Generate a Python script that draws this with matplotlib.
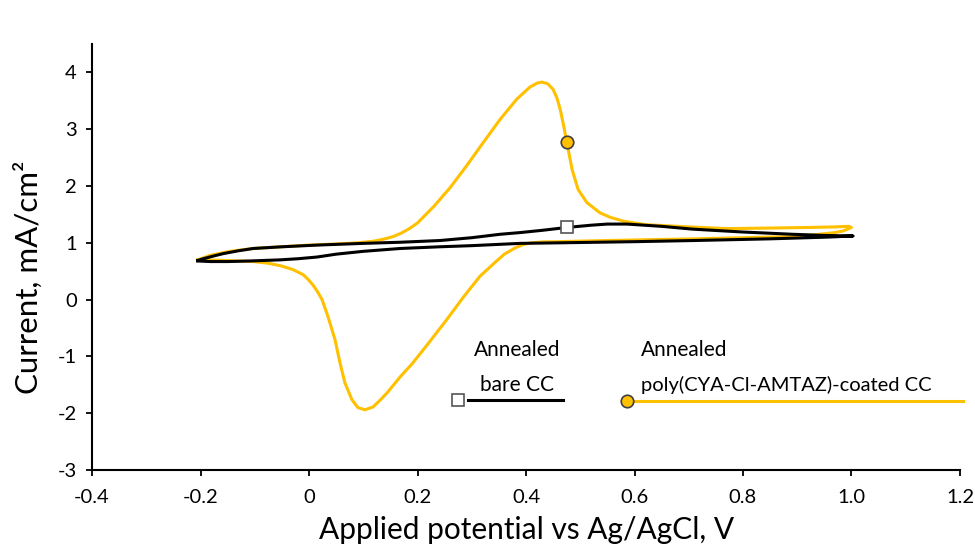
import matplotlib
matplotlib.use("Agg")
import matplotlib.pyplot as plt

plt.rcParams["font.family"] = ["Lato", "DejaVu Sans"]
plt.rcParams["axes.unicode_minus"] = False

# coated CC: forward sweep then reverse sweep back to -0.2 V
coated_e = [-0.205, -0.182, -0.146, -0.103, -0.035, 0.00, 0.05, 0.09, 0.12, 0.14,
            0.155, 0.17, 0.185, 0.20, 0.23, 0.26, 0.29, 0.32, 0.352, 0.383,
            0.407, 0.42, 0.429, 0.44, 0.450, 0.457, 0.463, 0.469, 0.475, 0.485,
            0.496, 0.512, 0.536, 0.555, 0.58, 0.62, 0.70, 0.77, 0.85, 0.92,
            0.97, 0.995,
            1.00, 0.985, 0.97, 0.93, 0.89, 0.80, 0.71, 0.60, 0.50, 0.46,
            0.43, 0.41, 0.395, 0.38, 0.36, 0.34, 0.315, 0.285, 0.254, 0.22,
            0.19, 0.168, 0.144, 0.13, 0.118, 0.103, 0.090, 0.079, 0.066, 0.057,
            0.048, 0.035, 0.024, 0.015, 0.007, -0.002, -0.011, -0.03, -0.05, -0.075,
            -0.103, -0.130, -0.158, -0.185, -0.205]
coated_i = [0.70, 0.78, 0.85, 0.90, 0.94, 0.96, 0.98, 1.00, 1.03, 1.07,
            1.11, 1.17, 1.25, 1.35, 1.64, 1.97, 2.35, 2.75, 3.17, 3.53,
            3.74, 3.81, 3.83, 3.80, 3.70, 3.55, 3.35, 3.08, 2.78, 2.29,
            1.94, 1.71, 1.53, 1.45, 1.38, 1.32, 1.28, 1.25, 1.26, 1.27,
            1.28, 1.29,
            1.27, 1.21, 1.18, 1.14, 1.11, 1.09, 1.07, 1.05, 1.03, 1.02,
            1.015, 1.00, 0.97, 0.91, 0.80, 0.63, 0.41, 0.05, -0.35, -0.77,
            -1.13, -1.36, -1.64, -1.78, -1.89, -1.94, -1.90, -1.76, -1.46, -1.11,
            -0.71, -0.30, 0.00, 0.15, 0.26, 0.36, 0.44, 0.53, 0.59, 0.64,
            0.67, 0.68, 0.69, 0.70, 0.70]

# bare CC
bare_e = [-0.205, -0.195, -0.175, -0.158, -0.13, -0.103, -0.05, 0.015, 0.10, 0.168,
          0.241, 0.30, 0.352, 0.389, 0.43, 0.475, 0.52, 0.55, 0.586, 0.65,
          0.708, 0.80, 0.892, 0.95, 1.003,
          0.955, 0.85, 0.708, 0.60, 0.463, 0.389, 0.30, 0.241, 0.168, 0.10,
          0.05, 0.015, -0.02, -0.053, -0.109, -0.15, -0.182, -0.205]
bare_i = [0.69, 0.72, 0.77, 0.81, 0.86, 0.90, 0.93, 0.96, 0.99, 1.01,
          1.04, 1.09, 1.15, 1.18, 1.22, 1.27, 1.31, 1.33, 1.33, 1.29,
          1.24, 1.19, 1.15, 1.13, 1.12,
          1.10, 1.07, 1.04, 1.02, 1.00, 0.99, 0.95, 0.93, 0.90, 0.85,
          0.80, 0.75, 0.72, 0.70, 0.68, 0.67, 0.67, 0.68]

coated_marker = (0.475, 2.78)
bare_marker = (0.475, 1.27)

x_ticks = [-0.4, -0.2, 0, 0.2, 0.4, 0.6, 0.8, 1.0, 1.2]
x_tick_labels = ["-0.4", "-0.2", "0", "0.2", "0.4", "0.6", "0.8", "1.0", "1.2"]
y_ticks = [-3, -2, -1, 0, 1, 2, 3, 4]
y_tick_labels = ["-3", "-2", "-1", "0", "1", "2", "3", "4"]

GOLD = "#FFC000"

fig = plt.figure(figsize=(9.75, 5.48), dpi=100)
ax = fig.add_axes([0.0944, 0.1423, 0.8902, 0.7774])

ax.plot(coated_e, coated_i, color=GOLD, lw=2.2, solid_joinstyle="round", zorder=2)
ax.plot(bare_e, bare_i, color="black", lw=2.2, solid_joinstyle="round", zorder=3)
ax.plot(*coated_marker, marker="o", ms=9, mfc=GOLD, mec="#404040", mew=1.2, zorder=4)
ax.plot(*bare_marker, marker="s", ms=8, mfc="white", mec="#555555", mew=1.2, zorder=4)

ax.set_xlim(-0.4, 1.2)
ax.set_ylim(-3, 4.5)
ax.set_xticks(x_ticks)
ax.set_xticklabels(x_tick_labels)
ax.set_yticks(y_ticks)
ax.set_yticklabels(y_tick_labels)
ax.tick_params(labelsize=14.5, direction="out", length=4, width=1.3)
ax.tick_params(axis="x", pad=10)
ax.tick_params(axis="y", pad=7)
for side in ("top", "right"):
    ax.spines[side].set_visible(False)
for side in ("left", "bottom"):
    ax.spines[side].set_linewidth(1.5)

ax.set_xlabel("Applied potential vs Ag/AgCl, V", fontsize=21.5, va="center")
ax.set_ylabel("Current, mA/cm²", fontsize=22.5, va="center")
ax.xaxis.set_label_coords(0.501, -0.141)
ax.yaxis.set_label_coords(-0.0737, 0.453)

# hand-placed legend entries
ax.text(0.383, -0.88, "Annealed", fontsize=15, ha="center", va="center")
ax.text(0.383, -1.50, "bare CC", fontsize=15, ha="center", va="center")
ax.plot([0.293, 0.468], [-1.76, -1.76], color="black", lw=2.2, clip_on=False)
ax.plot(0.275, -1.76, marker="s", ms=8, mfc="white", mec="#555555", mew=1.2)

ax.text(0.612, -0.88, "Annealed", fontsize=15, ha="left", va="center")
ax.text(0.612, -1.50, "poly(CYA-Cl-AMTAZ)-coated CC", fontsize=14.5, ha="left", va="center")
ax.plot([0.601, 1.205], [-1.78, -1.78], color=GOLD, lw=2.2, clip_on=False)
ax.plot(0.586, -1.78, marker="o", ms=9, mfc=GOLD, mec="#404040", mew=1.2, clip_on=False)

fig.savefig("out.png", dpi=100)
